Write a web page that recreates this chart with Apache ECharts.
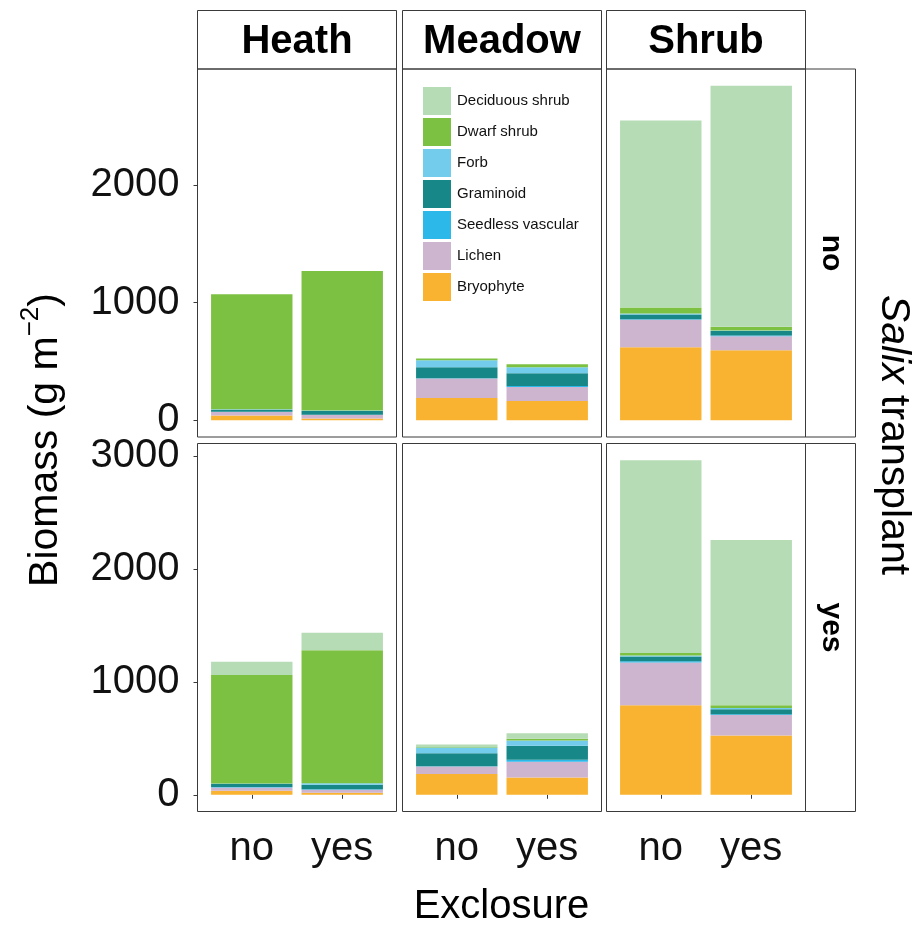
<!DOCTYPE html>
<html><head><meta charset="utf-8">
<script src="https://cdn.jsdelivr.net/npm/echarts@6/dist/echarts.min.js"></script>
<style>html,body{margin:0;padding:0;background:#fff}#c{width:917px;height:926px}</style>
</head><body><div id="c"></div>
<script>
// ---------------- DATA ----------------
const habitats = ['Heath', 'Meadow', 'Shrub'];
const transplantRows = ['no', 'yes'];
const exclosureLevels = ['no', 'yes'];
const speciesGroups = ['Deciduous shrub', 'Dwarf shrub', 'Forb', 'Graminoid', 'Seedless vascular', 'Lichen', 'Bryophyte'];
// Order of each array: transplant "no" row [Heath no, Heath yes, Meadow no, Meadow yes, Shrub no, Shrub yes],
// then transplant "yes" row in the same order.
const bryophyte       = [40, 15, 189, 164, 620, 594,    35, 18, 183, 153, 793, 524];
const lichen          = [30, 30, 165, 119, 235, 119,    30, 26,  67, 139, 377, 183];
const seedlessVascular= [ 3,  3,   3,   8,   4,   7,     3,  4,   3,  17,  12,   6];
const graminoid       = [17, 31,  93, 108,  39,  38,    29, 40, 115, 124,  41,  45];
const forb            = [ 3,  4,  59,  51,  10,   5,     3, 15,  50,  47,   9,  11];
const dwarfShrub      = [977, 1185, 15, 25,  51,  32,  961, 1176,  4,  15,  23,  24];
const deciduousShrub  = [ 0,  0,   0,   0, 1588, 2047, 117, 156,  23,  50, 1706, 1461];
const yTicksTop = [0, 1000, 2000];
const yTicksBottom = [0, 1000, 2000, 3000];
const yTitle = 'Biomass (g m';
const ySup = '\u22122';
const xTitle = 'Exclosure';
const rightTitleItalic = 'Salix';
const rightTitleRest = ' transplant';

// ---------------- STYLE / LAYOUT ----------------
const palette = {
  'Deciduous shrub': '#b6dcb5',
  'Dwarf shrub': '#7cc142',
  'Forb': '#73ccec',
  'Graminoid': '#178787',
  'Seedless vascular': '#2db8ea',
  'Lichen': '#cdb5d0',
  'Bryophyte': '#f9b330'
};
const valuesBySpecies = {
  'Bryophyte': bryophyte, 'Lichen': lichen, 'Seedless vascular': seedlessVascular,
  'Graminoid': graminoid, 'Forb': forb, 'Dwarf shrub': dwarfShrub, 'Deciduous shrub': deciduousShrub
};
const stackOrder = ['Bryophyte', 'Lichen', 'Seedless vascular', 'Graminoid', 'Forb', 'Dwarf shrub', 'Deciduous shrub'];
const FONT = '"Liberation Sans", Arial, sans-serif';
const colLeft = [197.5, 402.5, 606.5];
const colWidth = 199;
const band = colWidth / 2.2;       // ggplot discrete expansion 0.6 on each side
const inset = band * 0.1;
const rowTop = [69, 443.5];
const rowHeight = 368;
const rowRange = [[-142, 2984], [-148, 3109]];
const rowTicks = [yTicksTop, yTicksBottom];
const border = '#3a3a3a';

const grids = [], xAxes = [], yAxes = [], series = [];
for (let r = 0; r < 2; r++) {
  for (let c = 0; c < 3; c++) {
    const p = r * 3 + c;
    grids.push({
      left: colLeft[c] + inset, top: rowTop[r], width: band * 2, height: rowHeight,
      show: false, containLabel: false, outerBoundsMode: 'none'
    });
    xAxes.push({
      gridIndex: p, type: 'category', data: exclosureLevels, boundaryGap: true,
      axisLine: { show: false }, splitLine: { show: false },
      axisTick: { show: r === 1, alignWithLabel: true, length: 4, lineStyle: { color: border } },
      axisLabel: { show: r === 1, margin: 17, fontSize: 40, fontFamily: FONT, color: '#111' }
    });
    yAxes.push({
      gridIndex: p, type: 'value', min: rowRange[r][0], max: rowRange[r][1], offset: inset,
      axisLine: { show: false }, splitLine: { show: false },
      axisTick: { show: c === 0, customValues: rowTicks[r], length: 4, lineStyle: { color: border } },
      axisLabel: {
        show: c === 0, customValues: rowTicks[r], margin: 18, formatter: v => String(v),
        padding: [5, 0, 0, 0],
        fontSize: 40, fontFamily: FONT, color: '#111'
      }
    });
    stackOrder.forEach(s => {
      const arr = valuesBySpecies[s];
      series.push({
        type: 'bar', name: s, xAxisIndex: p, yAxisIndex: p, stack: 'panel' + p,
        barWidth: '90%', silent: true,
        itemStyle: { color: palette[s] },
        data: [arr[r * 6 + c * 2], arr[r * 6 + c * 2 + 1]]
      });
    });
  }
}

const graphics = [];
// panel borders
for (let r = 0; r < 2; r++) {
  for (let c = 0; c < 3; c++) {
    graphics.push({
      type: 'rect', z: 100, silent: true,
      shape: { x: colLeft[c], y: rowTop[r], width: colWidth, height: rowHeight },
      style: { fill: 'none', stroke: border, lineWidth: 1 }
    });
  }
}
// header strips
habitats.forEach((h, c) => {
  graphics.push({
    type: 'rect', shape: { x: colLeft[c], y: 10.5, width: colWidth, height: 58.5 },
    style: { fill: '#fff', stroke: border, lineWidth: 1 }
  });
  graphics.push({
    type: 'text', x: colLeft[c] + colWidth / 2, y: 42,
    style: { text: h, fontSize: 40, fontWeight: 'bold', fontFamily: FONT, fill: '#000',
      align: 'center', verticalAlign: 'middle', textAlign: 'center', textVerticalAlign: 'middle' }
  });
});
// right strips
transplantRows.forEach((t, r) => {
  graphics.push({
    type: 'rect', shape: { x: 805.5, y: rowTop[r], width: 50, height: rowHeight },
    style: { fill: '#fff', stroke: border, lineWidth: 1 }
  });
  graphics.push({
    type: 'text', x: 831, y: rowTop[r] + rowHeight / 2, rotation: -Math.PI / 2,
    style: { text: t, fontSize: 30, fontWeight: 'bold', fontFamily: FONT, fill: '#000',
      align: 'center', verticalAlign: 'middle', textAlign: 'center', textVerticalAlign: 'middle' }
  });
});
// y title
graphics.push({
  type: 'text', x: 42, y: 440, rotation: Math.PI / 2,
  style: {
    text: '{a|' + yTitle + '}{s|' + ySup + '}{a|)}',
    align: 'center', verticalAlign: 'middle', textAlign: 'center', textVerticalAlign: 'middle',
    rich: {
      a: { fontSize: 41, fontFamily: FONT, fill: '#000', lineHeight: 48, verticalAlign: 'bottom' },
      s: { fontSize: 26, fontFamily: FONT, fill: '#000', lineHeight: 48, verticalAlign: 'top' }
    }
  }
});
// x title
graphics.push({
  type: 'text', x: 501.5, y: 907,
  style: { text: xTitle, fontSize: 40, fontFamily: FONT, fill: '#000',
    align: 'center', verticalAlign: 'middle', textAlign: 'center', textVerticalAlign: 'middle' }
});
// right title
graphics.push({
  type: 'text', x: 893, y: 435, rotation: -Math.PI / 2,
  style: {
    text: '{i|' + rightTitleItalic + '}{n|' + rightTitleRest + '}',
    align: 'center', verticalAlign: 'middle', textAlign: 'center', textVerticalAlign: 'middle',
    rich: {
      i: { fontSize: 41, fontStyle: 'italic', fontFamily: FONT, fill: '#000' },
      n: { fontSize: 41, fontFamily: FONT, fill: '#000' }
    }
  }
});

const chart = echarts.init(document.getElementById('c'));
chart.setOption({
  animation: false,
  backgroundColor: '#fff',
  grid: grids, xAxis: xAxes, yAxis: yAxes, series: series,
  legend: {
    data: speciesGroups, orient: 'vertical', left: 423, top: 87, padding: 0,
    itemWidth: 28, itemHeight: 28, itemGap: 3, icon: 'rect', selectedMode: false,
    textStyle: { fontSize: 15, fontFamily: FONT, color: '#111', padding: [0, 0, 0, 1] }
  },
  graphic: graphics
});
</script></body></html>
